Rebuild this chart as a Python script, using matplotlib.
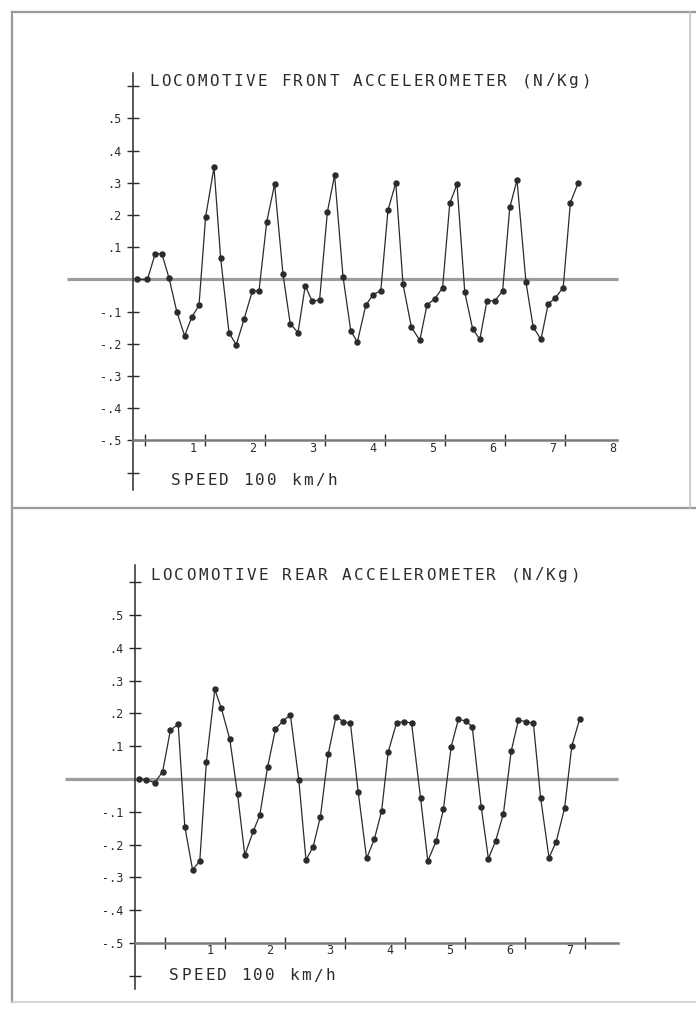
import numpy as np
import matplotlib
matplotlib.use('Agg')
import matplotlib.pyplot as plt
from matplotlib.lines import Line2D

# front accelerometer, x in units of the speed axis labels
front_x = [0.07, 0.24, 0.37, 0.48, 0.60, 0.73, 0.86, 0.98, 1.10, 1.21,
           1.35, 1.46, 1.60, 1.72, 1.85, 1.99, 2.10, 2.23, 2.36, 2.50,
           2.62, 2.75, 2.87, 2.99, 3.11, 3.24, 3.36, 3.50, 3.63, 3.74,
           3.88, 4.00, 4.13, 4.25, 4.38, 4.50, 4.64, 4.78, 4.90, 5.03,
           5.16, 5.28, 5.40, 5.53, 5.66, 5.78, 5.90, 6.03, 6.16, 6.28,
           6.40, 6.55, 6.67, 6.80, 6.92, 7.04, 7.17, 7.29, 7.42]
front_y = [0.00, 0.00, 0.08, 0.08, 0.005, -0.10, -0.175, -0.117, -0.08, 0.194,
           0.348, 0.068, -0.165, -0.203, -0.124, -0.035, -0.035, 0.18, 0.296, 0.016,
           -0.137, -0.165, -0.02, -0.068, -0.063, 0.21, 0.324, 0.009, -0.16, -0.194,
           -0.08, -0.047, -0.035, 0.216, 0.30, -0.014, -0.148, -0.189, -0.079, -0.06,
           -0.025, 0.237, 0.296, -0.04, -0.153, -0.186, -0.066, -0.066, -0.036, 0.224,
           0.309, -0.009, -0.148, -0.186, -0.076, -0.057, -0.025, 0.239, 0.30]

# rear accelerometer
rear_x = [-0.19, -0.06, 0.08, 0.21, 0.34, 0.47, 0.58, 0.71, 0.83, 0.94,
          1.08, 1.19, 1.33, 1.46, 1.58, 1.72, 1.83, 1.96, 2.09, 2.22,
          2.34, 2.48, 2.60, 2.72, 2.84, 2.97, 3.10, 3.22, 3.34, 3.47,
          3.61, 3.74, 3.86, 3.97, 4.11, 4.24, 4.36, 4.51, 4.63, 4.77,
          4.89, 5.02, 5.14, 5.26, 5.37, 5.52, 5.64, 5.76, 5.89, 6.02,
          6.14, 6.27, 6.39, 6.51, 6.65, 6.77, 6.91, 7.03, 7.16]
rear_y = [0.0, -0.003, -0.011, 0.022, 0.149, 0.167, -0.145, -0.277, -0.25, 0.053,
          0.273, 0.215, 0.121, -0.047, -0.232, -0.16, -0.11, 0.036, 0.151, 0.178,
          0.195, -0.003, -0.247, -0.206, -0.115, 0.076, 0.19, 0.175, 0.17, -0.039,
          -0.242, -0.183, -0.098, 0.082, 0.172, 0.175, 0.17, -0.059, -0.25, -0.189,
          -0.092, 0.099, 0.182, 0.177, 0.16, -0.085, -0.243, -0.189, -0.106, 0.085,
          0.179, 0.175, 0.17, -0.057, -0.24, -0.191, -0.089, 0.10, 0.182]

ytick_vals = [-0.6, -0.5, -0.4, -0.3, -0.2, -0.1, 0.1, 0.2, 0.3, 0.4, 0.5, 0.6]
ytick_labels = ['', '-.5', '-.4', '-.3', '-.2', '-.1', '.1', '.2', '.3', '.4', '.5', '']
front_xlabels = ['1', '2', '3', '4', '5', '6', '7', '8']
rear_xlabels = ['1', '2', '3', '4', '5', '6', '7']

front_title = 'LOCOMOTIVE FRONT ACCELEROMETER (N/Kg)'
rear_title = 'LOCOMOTIVE REAR ACCELEROMETER (N/Kg)'
speed_label = 'SPEED 100 km/h'

W, H = 696, 1035
ink = '#2b2b2b'
plt.rcParams['font.family'] = ['DejaVu Sans Mono']

fig = plt.figure(figsize=(W / 100, H / 100), dpi=100)
fig.patch.set_facecolor('white')


def px_axes(left, top, right, bottom):
    return fig.add_axes([left / W, 1 - bottom / H, (right - left) / W, (bottom - top) / H])


def plotter_text(x0, y, s, step=12.0, size=11.5):
    # old pen plotter lettering: fixed pitch, placed char by char
    for i, ch in enumerate(s):
        fig.text((x0 + i * step + step / 2) / W, 1 - y / H, ch, ha='center', va='center',
                 fontsize=size, color=ink)


def panel(ax, xs, ys, x_axis_pos, xlim, ylim, ybounds, xend, xlabels, plus_off, zero_span):
    ax.set_xlim(*xlim)
    ax.set_ylim(*ylim)
    ax.patch.set_alpha(0)
    for s in ['top', 'right']:
        ax.spines[s].set_visible(False)
    ax.spines['left'].set_position(('data', x_axis_pos))
    ax.spines['left'].set_bounds(*ybounds)
    ax.spines['left'].set_color(ink)
    ax.spines['left'].set_linewidth(1.1)
    ax.spines['bottom'].set_position(('data', -0.5))
    ax.spines['bottom'].set_bounds(x_axis_pos, xend)
    ax.spines['bottom'].set_color('#7a7a7a')
    ax.spines['bottom'].set_linewidth(1.8)

    ax.set_yticks(ytick_vals, ytick_labels)
    ax.tick_params(axis='y', direction='inout', length=9, width=1.0, color=ink,
                   labelsize=8.5, labelcolor=ink, pad=4)
    ax.set_xticks(range(1, len(xlabels) + 1), xlabels)
    ax.set_xticks([k + plus_off for k in range(8)], minor=True)
    ax.tick_params(axis='x', which='major', length=0, labelsize=8.5, labelcolor=ink, pad=1)
    ax.tick_params(axis='x', which='minor', direction='inout', length=8, width=1.0, color=ink)

    ax.plot(zero_span, [0, 0], color='#9c9c9c', lw=2.3, solid_capstyle='butt', zorder=1,
            clip_on=False)
    ax.plot(xs, ys, color=ink, lw=0.9, marker='o', ms=3.6, mfc=ink, mec=ink, zorder=3)


# top panel: label origin at px 133, 60 px per unit; zero at px 279.5, 322 px per unit
ax1 = px_axes(60, 60, 625, 500)
panel(ax1, front_x, front_y, 0.0,
      ((60 - 133) / 60, (625 - 133) / 60), ((279.5 - 500) / 322, (279.5 - 60) / 322),
      (-0.654, 0.641), 8.07, front_xlabels, 0.2, [-1.1, 8.08])

# bottom panel: label origin at px 150; zero at px 779, 328 px per unit
ax2 = px_axes(60, 555, 625, 1000)
panel(ax2, rear_x, rear_y, -0.25,
      ((60 - 150) / 60, (625 - 150) / 60), ((779 - 1000) / 328, (779 - 555) / 328),
      (-0.64, 0.652), 7.8, rear_xlabels, 0.25, [-1.42, 7.8])

plotter_text(148, 81, front_title)
plotter_text(170, 480, speed_label)
plotter_text(149, 575, rear_title)
plotter_text(168, 976, speed_label)

# page frame of the scanned sheet
frame = dict(color='#9a9a9a', lw=1.6, transform=fig.transFigure)
fig.add_artist(Line2D([12 / W, 1], [1 - 12 / H, 1 - 12 / H], **frame))
fig.add_artist(Line2D([12 / W, 12 / W], [1 - 12 / H, 1 - 1002 / H], **frame))
fig.add_artist(Line2D([12 / W, 1], [1 - 508 / H, 1 - 508 / H], **frame))
fig.add_artist(Line2D([690 / W, 690 / W], [1 - 12 / H, 1 - 508 / H], color='#c4c4c4', lw=1.2,
                      transform=fig.transFigure))
fig.add_artist(Line2D([12 / W, 1], [1 - 1002 / H, 1 - 1002 / H], color='#d0d0d0', lw=1.2,
                      transform=fig.transFigure))

fig.savefig('out.png', dpi=100, facecolor='white')
